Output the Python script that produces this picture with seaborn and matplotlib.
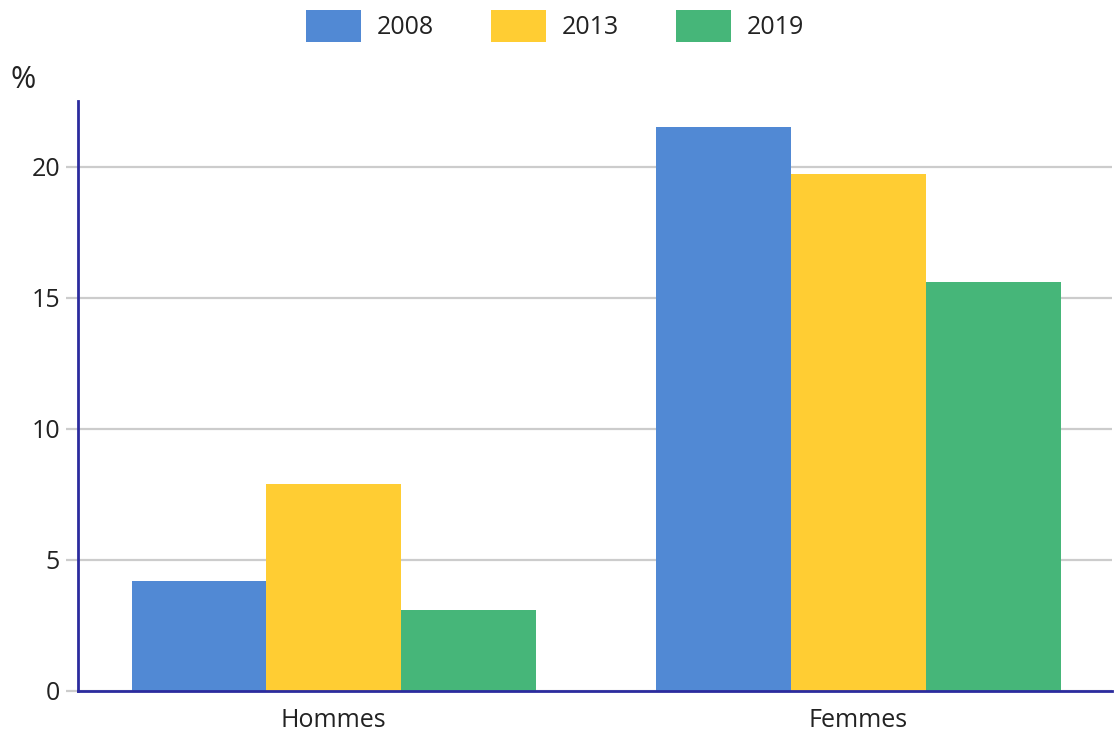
import matplotlib
matplotlib.use("Agg")
import matplotlib.pyplot as plt
import seaborn as sns
import pandas as pd

categories = ["Hommes", "Femmes"]
years = ["2008", "2013", "2019"]
values_2008 = [4.2, 21.5]
values_2013 = [7.9, 19.7]
values_2019 = [3.1, 15.6]
yticks = [0, 5, 10, 15, 20]

colors = ["#5189D4", "#FFCD33", "#46B679"]

rows = []
for yr, vals in zip(years, [values_2008, values_2013, values_2019]):
    for c, v in zip(categories, vals):
        rows.append({"cat": c, "year": yr, "val": v})
df = pd.DataFrame(rows)

sns.set_theme(style="white")
plt.rcParams["font.family"] = ["Open Sans", "DejaVu Sans"]

fig = plt.figure(figsize=(11.19, 7.38), dpi=100)
ax = fig.add_axes([78 / 1119, 1 - 691 / 738, (1112 - 78) / 1119, (691 - 101) / 738])

sns.barplot(data=df, x="cat", y="val", hue="year", order=categories, hue_order=years,
            palette=colors, width=0.77, ax=ax, saturation=1, legend=True, zorder=3)
for p in ax.patches:
    p.set_linewidth(0)

ax.set_xlim(-0.487, 1.483)
ax.set_ylim(0, 22.5)
ax.set_yticks(yticks)
ax.set_yticklabels([str(t) for t in yticks])
ax.grid(axis="y", color="#cccccc", linewidth=1.6, zorder=0)
ax.set_axisbelow(True)
ax.set_xlabel("")
ax.set_ylabel("")

for s in ["top", "right"]:
    ax.spines[s].set_visible(False)
for s in ["left", "bottom"]:
    ax.spines[s].set_color("#2b2b9e")
    ax.spines[s].set_linewidth(2)
    ax.spines[s].set_zorder(5)

ax.tick_params(axis="y", length=9, width=1.6, color="#cccccc", pad=4, labelsize=18,
               labelcolor="#222222", left=True)
ax.tick_params(axis="x", length=0, pad=12, labelsize=18, labelcolor="#222222")

handles, labels = ax.get_legend_handles_labels()
ax.legend_.remove()
fig.legend(handles, labels, loc="upper center", bbox_to_anchor=(0.496, 1.004), ncol=3,
           frameon=False, fontsize=18, handlelength=2.2, handleheight=1.6,
           handletextpad=0.64, columnspacing=2.28, labelcolor="#222222",
           borderaxespad=0.1)

fig.text(10 / 1119, 1 - 80 / 738, "%", fontsize=22, color="#222222", va="center", ha="left")

fig.savefig("out.png", dpi=100)
